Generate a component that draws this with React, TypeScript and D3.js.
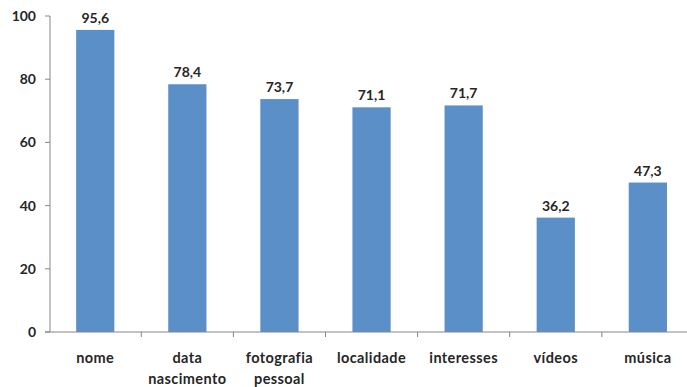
import React from "react";
import * as d3 from "d3";

const categories: string[][] = [
  ["nome"],
  ["data", "nascimento"],
  ["fotografia", "pessoal"],
  ["localidade"],
  ["interesses"],
  ["vídeos"],
  ["música"],
];
const values: number[] = [95.6, 78.4, 73.7, 71.1, 71.7, 36.2, 47.3];
const yTicks: number[] = [0, 20, 40, 60, 80, 100];

const W = 687;
const H = 387;
const left = 50;
const top = 16;
const bottom = 332;
const band = 92.1;

const FONT = "Lato, 'Open Sans', sans-serif";

export default function App() {
  const keys = categories.map((c) => c.join(" "));
  const x = d3
    .scaleBand<string>()
    .domain(keys)
    .range([left - 0.8, left - 0.8 + band * keys.length])
    .paddingInner(0.585)
    .paddingOuter(0.2925);
  const y = d3.scaleLinear().domain([0, 100]).range([bottom, top]);
  const fmt = (v: number) => v.toFixed(1).replace(".", ",");
  const step = x.step();
  const boundaries = d3.range(keys.length + 1).map((i) => x.range()[0] + i * step);

  return (
    <svg
      width={W}
      height={H}
      style={{ position: "absolute", left: 0, top: 0, background: "#fff" }}
      fontFamily={FONT}
    >
      {values.map((v, i) => {
        const k = keys[i];
        const bx = x(k)!;
        return (
          <g key={k}>
            <rect x={bx} y={y(v)} width={x.bandwidth()} height={bottom - y(v)} fill="#5b8fc7" />
            <text
              x={bx + x.bandwidth() / 2}
              y={y(v) - 7}
              textAnchor="middle"
              fontSize={14}
              fontWeight={700}
              fill="#262626"
            >
              {fmt(v)}
            </text>
            {categories[i].map((line, j) => (
              <text
                key={j}
                x={bx + x.bandwidth() / 2}
                y={363 + j * 21}
                textAnchor="middle"
                fontSize={14.5}
                fontWeight={700}
                letterSpacing={0.4}
                fill="#262626"
              >
                {line}
              </text>
            ))}
          </g>
        );
      })}
      {/* y axis */}
      <line x1={left} x2={left} y1={top} y2={bottom} stroke="#868686" strokeWidth={1} />
      {yTicks.map((t) => (
        <g key={t}>
          <line x1={left - 5} x2={left} y1={y(t)} y2={y(t)} stroke="#868686" />
          <text
            x={36}
            y={y(t) + 5}
            textAnchor="end"
            fontSize={14}
            fontWeight={700}
            fill="#262626"
          >
            {t}
          </text>
        </g>
      ))}
      {/* x axis */}
      <line x1={left - 5} x2={W} y1={bottom} y2={bottom} stroke="#868686" />
      {boundaries.slice(1).map((bx, i) => (
        <line key={i} x1={bx} x2={bx} y1={bottom} y2={bottom + 5} stroke="#868686" />
      ))}
    </svg>
  );
}
